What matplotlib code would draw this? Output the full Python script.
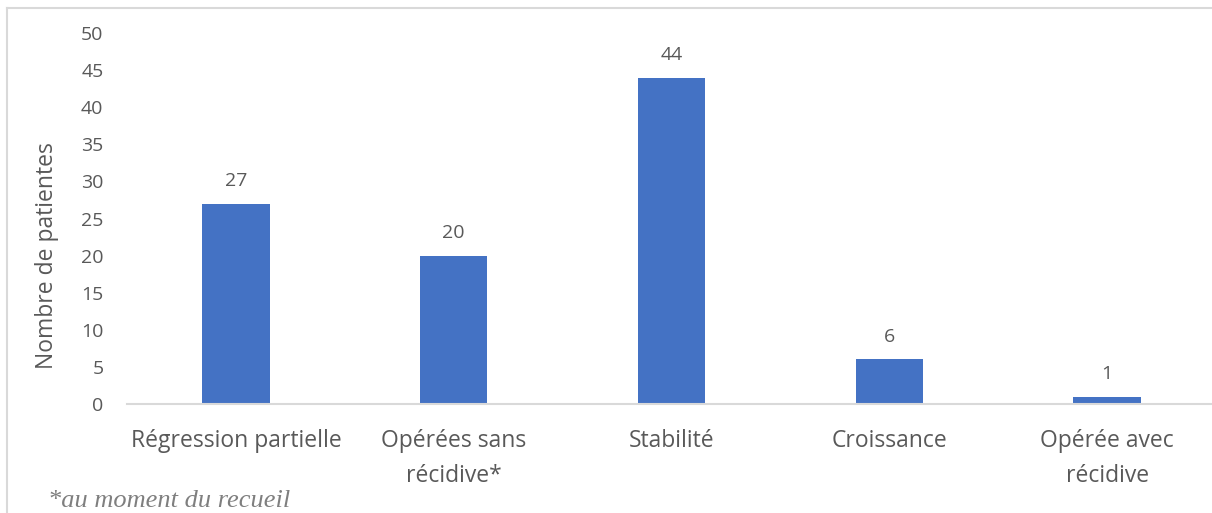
import matplotlib
matplotlib.use("Agg")
import matplotlib.pyplot as plt
from matplotlib.lines import Line2D

categories = ["Régression partielle", "Opérées sans\nrécidive*", "Stabilité", "Croissance", "Opérée avec\nrécidive"]
values = [27, 20, 44, 6, 1]
yticks = [0, 5, 10, 15, 20, 25, 30, 35, 40, 45, 50]

plt.rcParams['font.family'] = ['Open Sans', 'DejaVu Sans']
txt = '#595959'

fig = plt.figure(figsize=(12.12, 5.13), dpi=100)
W, H = 1212, 513

# outer border
fig.add_artist(Line2D([7/W, 7/W], [0, 1 - 8/H], transform=fig.transFigure, color='#d9d9d9', lw=1.5))
fig.add_artist(Line2D([7/W, 1], [1 - 8/H, 1 - 8/H], transform=fig.transFigure, color='#d9d9d9', lw=1.5))

left, right = 127/W, 1216/W
bottom, top = 1 - 404/H, 1 - 33/H
ax = fig.add_axes([left, bottom, right - left, top - bottom])

x = list(range(len(categories)))
ax.bar(x, values, width=0.31, color='#4472C4', zorder=3)
ax.set_xlim(-0.5, len(categories) - 0.5)
ax.set_ylim(0, 50)
ax.set_yticks(yticks)
ax.set_xticks(x)
ax.set_xticklabels(categories, fontsize=16.5, color=txt, linespacing=1.6)
ax.tick_params(axis='y', length=0, pad=17, labelsize=14, labelcolor=txt)
ax.tick_params(axis='x', length=0, pad=18)
for s in ['top', 'right', 'left']:
    ax.spines[s].set_visible(False)
ax.spines['bottom'].set_color('#d9d9d9')
ax.spines['bottom'].set_linewidth(1.5)
ax.spines['bottom'].set_zorder(4)

for xi, v in zip(x, values):
    ax.annotate(str(v), (xi, v), xytext=(0, 10), textcoords='offset points',
                ha='center', va='bottom', fontsize=14, color=txt)

ax.set_ylabel('Nombre de patientes', fontsize=16.5, color=txt)
ax.yaxis.set_label_coords((59 - 127) / 1089, (404 - 256) / (404 - 33))

fig.text(48/W, 1/H, '*au moment du recueil', family=['Liberation Serif'], style='italic',
         fontsize=19, color='#7f7f7f', va='bottom', ha='left')

fig.savefig('out.png', dpi=100)
